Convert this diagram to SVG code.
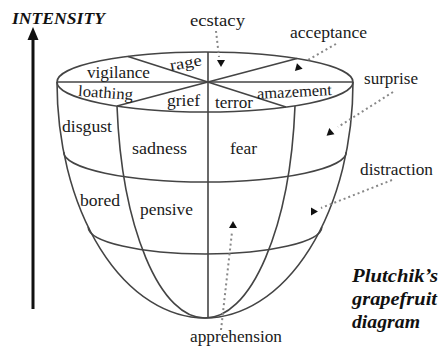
<svg xmlns="http://www.w3.org/2000/svg" width="445" height="349" viewBox="0 0 445 349">
<defs>
<style>
.ln{fill:none;stroke:#444;stroke-width:1.6}
.lb{font-family:"Liberation Serif","DejaVu Serif","Times New Roman",serif;font-size:16px;fill:#1a1a1a}
.ti{font-family:"Liberation Serif","DejaVu Serif","Times New Roman",serif;font-weight:bold;font-style:italic;fill:#111}
.dt{fill:none;stroke:#888;stroke-width:2;stroke-dasharray:2 3}
.hd{fill:#111}
</style>
<polygon id="up" points="0,-4 -4,3 4,3"/>
</defs>
<rect width="445" height="349" fill="#fff"/>

<g id="intensity-axis">
<line x1="33" y1="309" x2="33" y2="37" stroke="#111" stroke-width="3"/>
<polygon points="33,27 27.5,40 38.5,40" fill="#111"/>
<text class="ti" x="12" y="24" font-size="17" textLength="93" lengthAdjust="spacingAndGlyphs">INTENSITY</text>
</g>

<g id="fruit">
<ellipse class="ln" cx="205" cy="82" rx="148" ry="30"/>
<line class="ln" x1="57" y1="82" x2="353" y2="82"/>
<line class="ln" x1="208" y1="52" x2="208" y2="318"/>
<line class="ln" x1="128" y1="56.5" x2="286" y2="107"/>
<line class="ln" x1="117" y1="106" x2="297" y2="58.5"/>
<path class="ln" d="M57,82 A148,236 0 0 0 353,82"/>
<path class="ln" d="M117,106 A88,236 0 0 0 205,318"/>
<path class="ln" d="M295,106 A90,236 0 0 1 205,318"/>
<path class="ln" d="M63.7,152 A141.3,30 0 0 0 346.3,152"/>
<path class="ln" d="M88.2,227 A116.8,27 0 0 0 321.8,227"/>
</g>

<g id="connectors">
<line class="dt" x1="216" y1="31" x2="219" y2="57"/>
<line class="dt" x1="336" y1="44" x2="308" y2="60"/>
<line class="dt" x1="393" y1="92" x2="338" y2="127"/>
<line class="dt" x1="392" y1="180" x2="321" y2="208"/>
<line class="dt" x1="221" y1="330" x2="232" y2="232"/>
<use href="#up" class="hd" transform="translate(221,63) rotate(180)"/>
<use href="#up" class="hd" transform="translate(298,67) rotate(-15)"/>
<use href="#up" class="hd" transform="translate(330,132) rotate(-10)"/>
<use href="#up" class="hd" transform="translate(313,211) rotate(-30)"/>
<use href="#up" class="hd" transform="translate(233,225)"/>
</g>

<g id="node-ecstacy"><text class="lb" x="190" y="26" textLength="55" lengthAdjust="spacingAndGlyphs">ecstacy</text></g>
<g id="node-acceptance"><text class="lb" x="290" y="38" textLength="77" lengthAdjust="spacingAndGlyphs">acceptance</text></g>
<g id="node-surprise"><text class="lb" x="364" y="84" textLength="54" lengthAdjust="spacingAndGlyphs">surprise</text></g>
<g id="node-distraction"><text class="lb" x="360" y="175" textLength="73" lengthAdjust="spacingAndGlyphs">distraction</text></g>
<g id="node-apprehension"><text class="lb" x="190" y="342" textLength="92" lengthAdjust="spacingAndGlyphs">apprehension</text></g>
<g id="node-vigilance"><text class="lb" x="87" y="78" textLength="63" lengthAdjust="spacingAndGlyphs">vigilance</text></g>
<g id="node-rage"><text class="lb" x="170" y="68" textLength="32" lengthAdjust="spacingAndGlyphs" transform="rotate(-10 186 65)">rage</text></g>
<g id="node-loathing"><text class="lb" x="78" y="98" textLength="55" lengthAdjust="spacingAndGlyphs" transform="rotate(4 105 94)">loathing</text></g>
<g id="node-grief"><text class="lb" x="167" y="106" textLength="33" lengthAdjust="spacingAndGlyphs">grief</text></g>
<g id="node-terror"><text class="lb" x="215" y="108" textLength="38" lengthAdjust="spacingAndGlyphs">terror</text></g>
<g id="node-amazement"><text class="lb" x="257" y="97" textLength="75" lengthAdjust="spacingAndGlyphs" transform="rotate(-3 294 93)">amazement</text></g>
<g id="node-disgust"><text class="lb" x="62" y="132" textLength="50" lengthAdjust="spacingAndGlyphs">disgust</text></g>
<g id="node-sadness"><text class="lb" x="132" y="154" textLength="55" lengthAdjust="spacingAndGlyphs">sadness</text></g>
<g id="node-fear"><text class="lb" x="230" y="154" textLength="27" lengthAdjust="spacingAndGlyphs">fear</text></g>
<g id="node-bored"><text class="lb" x="80" y="206" textLength="40" lengthAdjust="spacingAndGlyphs">bored</text></g>
<g id="node-pensive"><text class="lb" x="140" y="215" textLength="53" lengthAdjust="spacingAndGlyphs">pensive</text></g>

<g id="caption">
<text class="ti" x="352" y="282" font-size="19" textLength="86" lengthAdjust="spacingAndGlyphs">Plutchik’s</text>
<text class="ti" x="352" y="305" font-size="19" textLength="85" lengthAdjust="spacingAndGlyphs">grapefruit</text>
<text class="ti" x="352" y="328" font-size="19" textLength="68" lengthAdjust="spacingAndGlyphs">diagram</text>
</g>
</svg>
